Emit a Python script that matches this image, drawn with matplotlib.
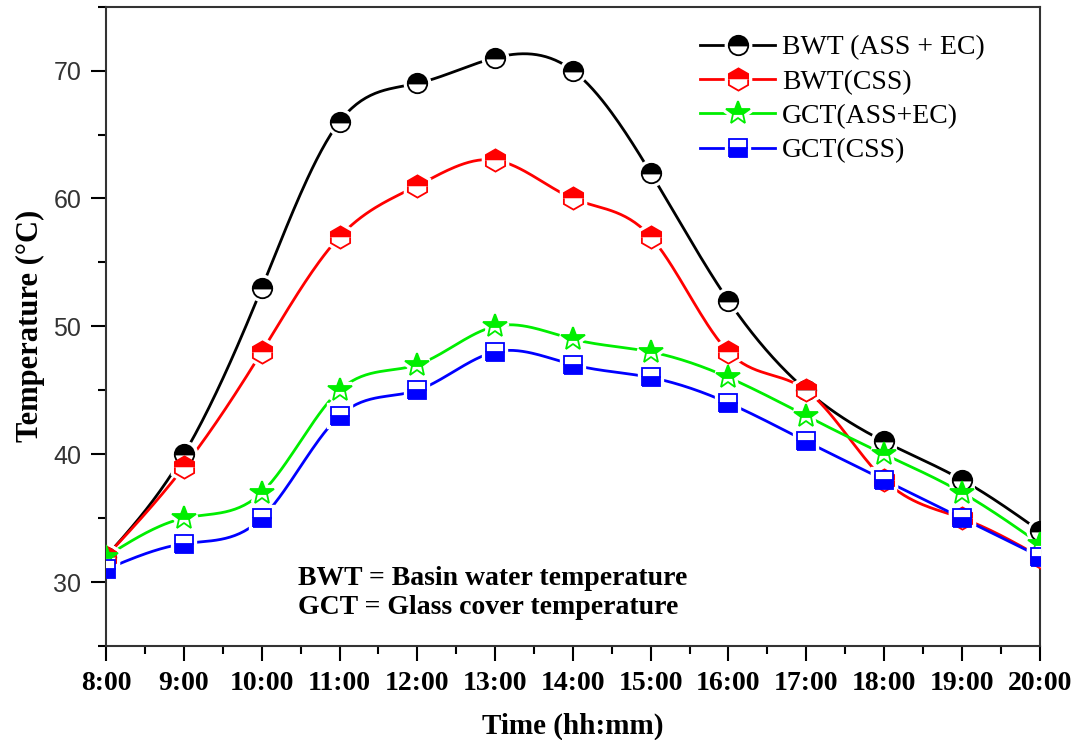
import matplotlib.pyplot as plt
import numpy as np
from matplotlib.legend_handler import HandlerTuple

hours = [8, 9, 10, 11, 12, 13, 14, 15, 16, 17, 18, 19, 20]
tick_labels = ['8:00', '9:00', '10:00', '11:00', '12:00', '13:00', '14:00',
               '15:00', '16:00', '17:00', '18:00', '19:00', '20:00']

bwt_ass_ec = [32, 40, 53, 66, 69, 71, 70, 62, 52, 45, 41, 38, 34]
bwt_css = [32, 39, 48, 57, 61, 63, 60, 57, 48, 45, 38, 35, 32]
gct_ass_ec = [32, 35, 37, 45, 47, 50, 49, 48, 46, 43, 40, 37, 33]
gct_css = [31, 33, 35, 43, 45, 48, 47, 46, 44, 41, 38, 35, 32]


def natural_spline(x, y, n=400):
    # natural cubic spline through the points, used only to draw the curve
    x = np.asarray(x, float)
    y = np.asarray(y, float)
    k = len(x)
    h = np.diff(x)
    A = np.zeros((k, k))
    b = np.zeros(k)
    A[0, 0] = A[-1, -1] = 1
    for i in range(1, k - 1):
        A[i, i - 1] = h[i - 1]
        A[i, i] = 2 * (h[i - 1] + h[i])
        A[i, i + 1] = h[i]
        b[i] = 3 * ((y[i + 1] - y[i]) / h[i] - (y[i] - y[i - 1]) / h[i - 1])
    c = np.linalg.solve(A, b)
    xs = np.linspace(x[0], x[-1], n)
    idx = np.clip(np.searchsorted(x, xs) - 1, 0, k - 2)
    dx = xs - x[idx]
    hi = h[idx]
    bi = (y[idx + 1] - y[idx]) / hi - hi * (2 * c[idx] + c[idx + 1]) / 3
    di = (c[idx + 1] - c[idx]) / (3 * hi)
    ys = y[idx] + bi * dx + c[idx] * dx ** 2 + di * dx ** 3
    return xs, ys


plt.rcParams['font.family'] = ['Liberation Serif', 'DejaVu Serif']

fig = plt.figure(figsize=(10.83, 7.40), dpi=100)
ax = fig.add_axes([0.098, 0.127, 0.862, 0.864])

series = [
    (bwt_ass_ec, 'black', 'o', 'top', 'BWT (ASS + EC)', 14),
    (bwt_css, 'red', 'h', 'top', 'BWT(CSS)', 16),
    (gct_ass_ec, '#00ee00', '*', 'top', 'GCT(ASS+EC)', 18),
    (gct_css, 'blue', 's', 'bottom', 'GCT(CSS)', 13),
]

handles = []
labels = []
for vals, col, mk, fs, lab, ms in series:
    xs, ys = natural_spline(hours, vals)
    line, = ax.plot(xs, ys, color=col, lw=2.0, zorder=2)
    # white halo leaves a small gap in the line around each marker
    halo, = ax.plot(hours, vals, linestyle='none', marker=mk, markersize=ms,
                    markerfacecolor='white', markeredgecolor='white',
                    markeredgewidth=6, zorder=2.5)
    mark, = ax.plot(hours, vals, linestyle='none', marker=mk, markersize=ms,
                    fillstyle=fs, markerfacecolor=col, markerfacecoloralt='white',
                    markeredgecolor=col, markeredgewidth=1.3, zorder=3)
    handles.append((line, halo, mark))
    labels.append(lab)

ax.set_xlim(8, 20)
ax.set_ylim(25, 75)
ax.set_xticks(hours)
ax.set_xticklabels(tick_labels, fontsize=20, fontweight='bold')
ax.set_xticks(np.arange(8.5, 20, 1), minor=True)
ax.set_yticks([30, 40, 50, 60, 70])
ax.set_yticks([25, 35, 45, 55, 65, 75], minor=True)
for t in ax.get_yticklabels():
    t.set_fontfamily('Liberation Sans')
    t.set_fontsize(18)
    t.set_color('#333333')

ax.tick_params(axis='both', which='major', direction='out', length=11, width=1.5, pad=7)
ax.tick_params(axis='both', which='minor', direction='out', length=6, width=1.5)
for s in ax.spines.values():
    s.set_linewidth(1.5)
    s.set_color('#333333')

ax.set_xlabel('Time (hh:mm)', fontsize=21, fontweight='bold', labelpad=12)
ax.set_ylabel('Temperature (\u00b0C)', fontsize=22, fontweight='bold', labelpad=6)

ax.text(0.205, 0.095, 'BWT = Basin water temperature', transform=ax.transAxes,
        fontsize=20, fontweight='bold')
ax.text(0.205, 0.050, 'GCT = Glass cover temperature', transform=ax.transAxes,
        fontsize=20, fontweight='bold')

ax.legend(handles, labels, handler_map={tuple: HandlerTuple(ndivide=1)},
          loc='upper left', bbox_to_anchor=(700 / 1083, 1 - 35 / 740),
          bbox_transform=fig.transFigure, frameon=False, fontsize=20,
          handlelength=2.7, handletextpad=0.25, labelspacing=0.32,
          borderaxespad=0, borderpad=0)

fig.savefig('out.png', dpi=100)
plt.close(fig)
